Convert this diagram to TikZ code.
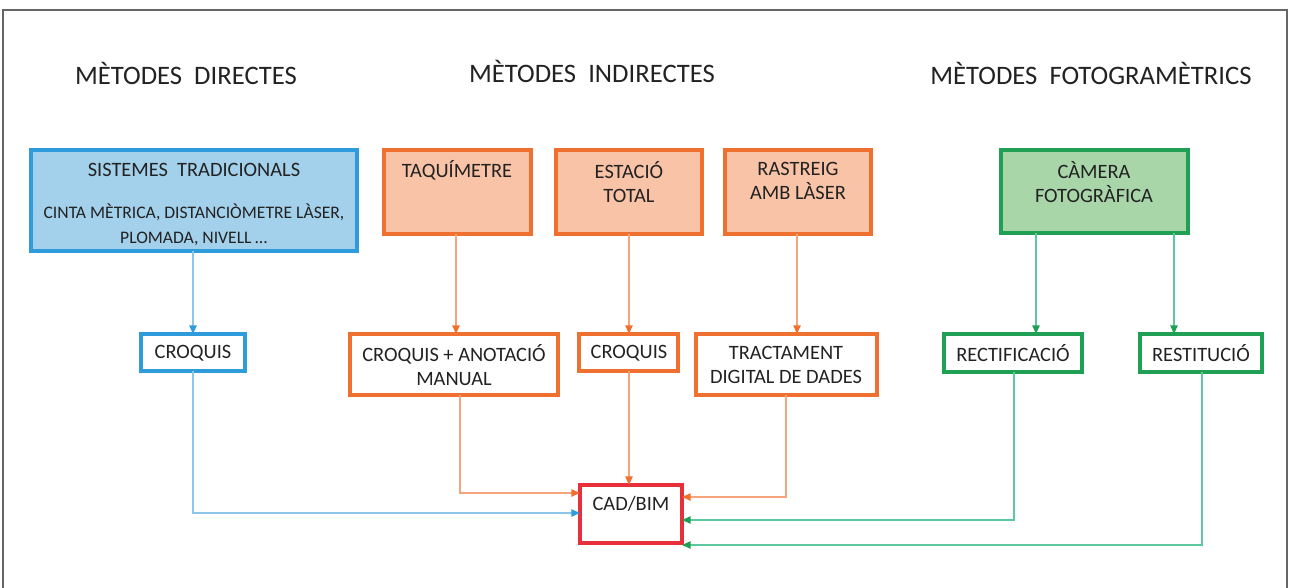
\documentclass[tikz,border=0pt]{standalone}
\usepackage{fontspec}
\setmainfont{Carlito}
\usetikzlibrary{arrows.meta}
\definecolor{txt}{HTML}{222222}
\definecolor{bluefill}{HTML}{A3D0EA}
\definecolor{blueline}{HTML}{2E9BDB}
\definecolor{bluearr}{HTML}{8CC6EA}
\definecolor{orfill}{HTML}{F8C3A6}
\definecolor{orline}{HTML}{F07030}
\definecolor{orarr}{HTML}{F5A47C}
\definecolor{grfill}{HTML}{A9D6A9}
\definecolor{grline}{HTML}{1FA055}
\definecolor{grarr}{HTML}{5CC8A0}
\definecolor{redline}{HTML}{E8303A}
\definecolor{frame}{HTML}{666666}
\tikzset{
  heading/.style={text=txt, font=\fontsize{20}{22}\selectfont, inner sep=0pt},
  boxframe/.style={line width=2.6pt, draw=#1},
  label/.style={text=txt, font=\fontsize{15.3}{18.5}\selectfont, align=center, inner sep=0pt},
  smalllabel/.style={text=txt, font=\fontsize{13.2}{18.5}\selectfont, align=center, inner sep=0pt},
  conn/.style={line width=1.2pt, draw=#1, line join=miter},
  tip/.style={-{Triangle[length=6.5pt,width=5.5pt,color=#1]}},
}
\begin{document}
\begin{tikzpicture}[x=0.75pt,y=-0.75pt]
\useasboundingbox (0,0) rectangle (1289,587);
\draw[frame, line width=1.4pt] (3,590) -- (3,10) -- (1287,10) -- (1287,590);
% headings
\node[heading] (h1) at (186,73) {MÈTODES\ \ DIRECTES};
\node[heading] (h2) at (592,71) {MÈTODES\ \ INDIRECTES};
\node[heading] (h3) at (1091,73) {MÈTODES\ \ FOTOGRAMÈTRICS};
% top boxes
\draw[boxframe=blueline, fill=bluefill] (31,150) rectangle (357,251);
\node[label] (st) at (194,170) {SISTEMES\ \ TRADICIONALS};
\node[smalllabel] (stb) at (194,225) {CINTA MÈTRICA, DISTANCIÒMETRE LÀSER,\\PLOMADA, NIVELL\,...};
\coordinate (stbot) at (193,251);

\draw[boxframe=orline, fill=orfill] (384,150) rectangle (531,234);
\node[label] (taq) at (457,170) {TAQUÍMETRE};
\coordinate (taqbot) at (456,234);

\draw[boxframe=orline, fill=orfill] (556,150) rectangle (702,234);
\node[label] (est) at (629,182) {ESTACIÓ\\TOTAL};
\coordinate (estbot) at (629,234);

\draw[boxframe=orline, fill=orfill] (725,150) rectangle (871,234);
\node[label] (ras) at (798,181) {RASTREIG\\AMB LÀSER};
\coordinate (rasbot) at (797,234);

\draw[boxframe=grline, fill=grfill] (1001,150) rectangle (1188,233);
\node[label] (cam) at (1094,182) {CÀMERA\\FOTOGRÀFICA};
\coordinate (cambotA) at (1036,233);
\coordinate (cambotB) at (1174,233);

% middle boxes
\draw[boxframe=blueline] (141,334) rectangle (245,371);
\node[label] (cr1) at (193,353) {CROQUIS};
\coordinate (cr1top) at (193,334);
\coordinate (cr1bot) at (193,371);

\draw[boxframe=orline] (350,334) rectangle (558,395);
\node[label] (can) at (454,365) {CROQUIS + ANOTACIÓ\\MANUAL};
\coordinate (cantop) at (456,334);
\coordinate (canbot) at (460,395);

\draw[boxframe=orline] (579,334) rectangle (678,371);
\node[label] (cr2) at (629,353) {CROQUIS};
\coordinate (cr2top) at (629,334);
\coordinate (cr2bot) at (629,371);

\draw[boxframe=orline] (696,334) rectangle (877,395);
\node[label] (tdd) at (786,365) {TRACTAMENT\\DIGITAL DE DADES};
\coordinate (tddtop) at (797,334);
\coordinate (tddbot) at (786,395);

\draw[boxframe=grline] (944,334) rectangle (1082,372);
\node[label] (rec) at (1013,353) {RECTIFICACIÓ};
\coordinate (rectop) at (1036,334);
\coordinate (recbot) at (1014,372);

\draw[boxframe=grline] (1140,334) rectangle (1262,372);
\node[label] (res) at (1201,353) {RESTITUCIÓ};
\coordinate (restop) at (1174,334);
\coordinate (resbot) at (1202,372);

% CAD/BIM
\draw[boxframe=redline] (580,485) rectangle (682,543);
\node[label] (cad) at (631,504) {CAD/BIM};
\coordinate (cadtop) at (629,485);
\coordinate (cadL1) at (580,493);
\coordinate (cadL2) at (580,513);
\coordinate (cadR1) at (682,497);
\coordinate (cadR2) at (682,520);
\coordinate (cadR3) at (682,545);

% connectors
\draw[conn=bluearr, tip=blueline] (stbot) -- (cr1top);
\draw[conn=bluearr, tip=blueline] (cr1bot) |- (cadL2);
\draw[conn=orarr, tip=orline] (taqbot) -- (cantop);
\draw[conn=orarr, tip=orline] (estbot) -- (cr2top);
\draw[conn=orarr, tip=orline] (rasbot) -- (tddtop);
\draw[conn=orarr, tip=orline] (canbot) |- (cadL1);
\draw[conn=orarr, tip=orline] (cr2bot) -- (cadtop);
\draw[conn=orarr, tip=orline] (tddbot) |- (cadR1);
\draw[conn=grarr, tip=grline] (cambotA) -- (rectop);
\draw[conn=grarr, tip=grline] (cambotB) -- (restop);
\draw[conn=grarr, tip=grline] (recbot) |- (cadR2);
\draw[conn=grarr, tip=grline] (resbot) |- (cadR3);
\end{tikzpicture}
\end{document}
